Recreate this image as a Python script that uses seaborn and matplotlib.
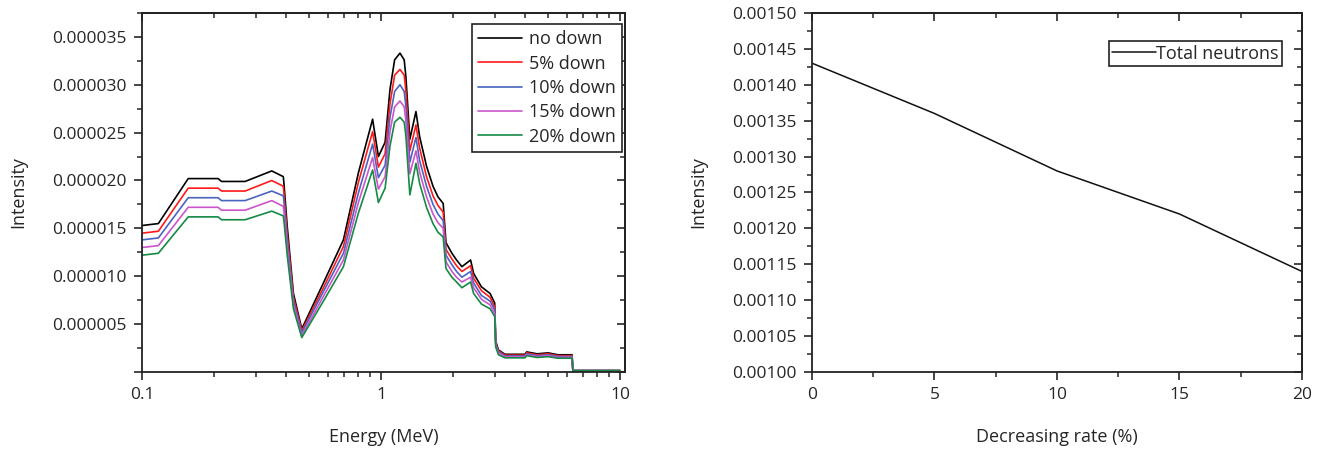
import numpy as np
import pandas as pd
import matplotlib
matplotlib.use('Agg')
import matplotlib.pyplot as plt
import matplotlib.ticker as mticker
import seaborn as sns

# spectrum data (intensity in units of 1e-6)
energy = [0.100, 0.117, 0.156, 0.208, 0.215, 0.270, 0.349, 0.390, 0.393, 0.405,
          0.430, 0.466, 0.574, 0.696, 0.804, 0.922, 0.975, 1.04, 1.09, 1.14,
          1.20, 1.25, 1.27, 1.32, 1.40, 1.45, 1.55, 1.65, 1.73, 1.82,
          1.87, 1.98, 2.07, 2.18, 2.37, 2.44, 2.63, 2.86, 2.99, 3.02,
          3.10, 3.30, 4.00, 4.07, 4.50, 5.00, 5.50, 6.30, 6.35, 10.0]
no_down = [15.3, 15.5, 20.2, 20.2, 19.9, 19.9, 21.0, 20.4, 19.5, 15.2,
           8.2, 4.5, 9.3, 13.8, 20.8, 26.4, 22.5, 24.0, 29.5, 32.6,
           33.3, 32.6, 30.9, 24.3, 27.2, 24.6, 21.5, 19.4, 18.3, 17.6,
           13.5, 12.4, 11.7, 11.0, 11.7, 10.3, 8.9, 8.2, 7.2, 3.2,
           2.3, 1.85, 1.85, 2.1, 1.9, 2.0, 1.8, 1.8, 0.15, 0.15]
down_5 = [14.5, 14.7, 19.2, 19.2, 18.9, 18.9, 20.0, 19.4, 18.5, 14.4,
          7.8, 4.3, 8.8, 13.1, 19.8, 25.1, 21.4, 22.8, 28.0, 31.0,
          31.6, 31.0, 29.4, 23.1, 25.8, 23.4, 20.4, 18.4, 17.4, 16.7,
          12.8, 11.8, 11.1, 10.5, 11.1, 9.8, 8.5, 7.8, 6.8, 3.0,
          2.2, 1.76, 1.76, 2.0, 1.8, 1.9, 1.71, 1.71, 0.15, 0.15]
down_10 = [13.8, 14.0, 18.2, 18.2, 17.9, 17.9, 18.9, 18.4, 17.6, 13.7,
           7.4, 4.1, 8.4, 12.4, 18.7, 23.8, 20.3, 21.6, 26.6, 29.3,
           30.0, 29.3, 27.8, 21.9, 24.5, 22.1, 19.4, 17.5, 16.5, 15.8,
           12.2, 11.2, 10.5, 9.9, 10.5, 9.3, 8.0, 7.4, 6.5, 2.9,
           2.1, 1.67, 1.67, 1.9, 1.71, 1.8, 1.62, 1.62, 0.15, 0.15]
down_15 = [13.0, 13.2, 17.2, 17.2, 16.9, 16.9, 17.9, 17.3, 16.6, 12.9,
           7.0, 3.8, 7.9, 11.7, 17.7, 22.4, 19.1, 20.4, 25.1, 27.7,
           28.3, 27.7, 26.3, 20.7, 23.1, 20.9, 18.3, 16.5, 15.6, 15.0,
           11.5, 10.5, 9.9, 9.4, 9.9, 8.8, 7.6, 7.0, 6.1, 2.7,
           2.0, 1.57, 1.57, 1.8, 1.62, 1.7, 1.53, 1.53, 0.15, 0.15]
down_20 = [12.2, 12.4, 16.2, 16.2, 15.9, 15.9, 16.8, 16.3, 15.6, 12.2,
           6.6, 3.6, 7.4, 11.0, 16.6, 21.1, 17.7, 19.2, 23.6, 26.1,
           26.6, 26.1, 24.7, 18.5, 21.8, 19.7, 17.2, 15.5, 14.6, 14.1,
           10.8, 9.9, 9.4, 8.8, 9.4, 8.2, 7.1, 6.6, 5.8, 2.6,
           1.8, 1.48, 1.48, 1.7, 1.52, 1.6, 1.44, 1.44, 0.15, 0.15]
series_names = ['no down', '5% down', '10% down', '15% down', '20% down']
series_colors = ['#000000', '#ff1a1a', '#4a64c0', '#cc55cc', '#148a45']

# total neutrons vs decreasing rate
rate = [0, 5, 10, 15, 20]
total_neutrons = [0.001430, 0.001360, 0.001280, 0.001220, 0.001140]

spec = pd.concat([pd.DataFrame({'Energy': energy, 'Intensity': vals, 'Series': name})
                  for name, vals in zip(series_names, [no_down, down_5, down_10, down_15, down_20])],
                 ignore_index=True)
tot = pd.DataFrame({'Rate': rate, 'Total': total_neutrons, 'Series': 'Total neutrons'})

sns.set_style('ticks')
plt.rcParams['font.family'] = ['Open Sans', 'DejaVu Sans']
plt.rcParams['axes.linewidth'] = 1.3
plt.rcParams['axes.edgecolor'] = '#222222'

fig = plt.figure(figsize=(13.19, 4.5), dpi=100)
ax1 = fig.add_axes([0.1077, 0.1733, 0.3662, 0.798])
ax2 = fig.add_axes([0.6156, 0.1733, 0.3715, 0.798])

tick_fs = 12.5
label_fs = 13

# ---- left: spectra
ax1.set_xscale('log')
sns.lineplot(data=spec, x='Energy', y='Intensity', hue='Series', palette=series_colors,
             sort=False, estimator=None, linewidth=1.2, ax=ax1)
ax1.set_xlim(0.1, 10.5)
ax1.set_ylim(0, 37.5)
ax1.yaxis.set_major_locator(mticker.MultipleLocator(5))
ax1.yaxis.set_minor_locator(mticker.MultipleLocator(2.5))
ax1.yaxis.set_major_formatter(mticker.FuncFormatter(lambda v, p: '' if v <= 0 else f'{v/1e6:.6f}'))
ax1.xaxis.set_major_locator(mticker.LogLocator(base=10))
ax1.xaxis.set_minor_locator(mticker.LogLocator(base=10, subs=np.arange(2, 10)))
ax1.xaxis.set_major_formatter(mticker.FuncFormatter(lambda v, p: f'{v:g}'))
ax1.xaxis.set_minor_formatter(mticker.NullFormatter())
ax1.set_xlabel('Energy (MeV)', fontsize=label_fs, labelpad=18)
ax1.set_ylabel('Intensity', fontsize=label_fs, labelpad=18)

h, l = ax1.get_legend_handles_labels()
ax1.legend(h, l, loc='upper right', bbox_to_anchor=(0.994, 0.969), borderaxespad=0,
           fancybox=False, edgecolor='#222222', framealpha=1, fontsize=label_fs,
           handlelength=2.4, handletextpad=0.4, labelspacing=0.35, borderpad=0.35)
ax1.get_legend().get_frame().set_linewidth(1.2)

# ---- right: total neutrons
sns.lineplot(data=tot, x='Rate', y='Total', hue='Series', palette=['#111111'],
             linewidth=1.1, ax=ax2)
ax2.set_xlim(0, 20)
ax2.set_ylim(0.0010, 0.0015)
ax2.xaxis.set_major_locator(mticker.MultipleLocator(5))
ax2.xaxis.set_minor_locator(mticker.MultipleLocator(2.5))
ax2.yaxis.set_major_locator(mticker.MultipleLocator(0.00005))
ax2.yaxis.set_minor_locator(mticker.MultipleLocator(0.000025))
ax2.yaxis.set_major_formatter(mticker.FormatStrFormatter('%.5f'))
ax2.set_xlabel('Decreasing rate (%)', fontsize=label_fs, labelpad=18)
ax2.set_ylabel('Intensity', fontsize=label_fs, labelpad=18)
h, l = ax2.get_legend_handles_labels()
ax2.legend(h, l, loc='upper right', bbox_to_anchor=(0.959, 0.922), borderaxespad=0,
           fancybox=False, edgecolor='#222222', framealpha=1, fontsize=label_fs,
           handlelength=2.4, handletextpad=0.0, borderpad=0.2)
ax2.get_legend().get_frame().set_linewidth(1.2)

for ax in (ax1, ax2):
    ax.tick_params(which='major', direction='out', length=6, width=1.2, labelsize=tick_fs, pad=5)
    ax.tick_params(which='minor', direction='out', length=3.5, width=1.1)
    # inward ticks on the top and right edges
    top = ax.secondary_xaxis('top')
    top.xaxis.set_major_locator(ax.xaxis.get_major_locator())
    top.xaxis.set_minor_locator(ax.xaxis.get_minor_locator())
    top.tick_params(which='both', direction='in', labeltop=False)
    top.tick_params(which='major', length=6, width=1.2)
    top.tick_params(which='minor', length=3.5, width=1.1)
    right = ax.secondary_yaxis('right')
    right.yaxis.set_major_locator(ax.yaxis.get_major_locator())
    right.yaxis.set_minor_locator(ax.yaxis.get_minor_locator())
    right.tick_params(which='both', direction='in', labelright=False)
    right.tick_params(which='major', length=6, width=1.2)
    right.tick_params(which='minor', length=3.5, width=1.1)

fig.savefig('out.png', dpi=100)
